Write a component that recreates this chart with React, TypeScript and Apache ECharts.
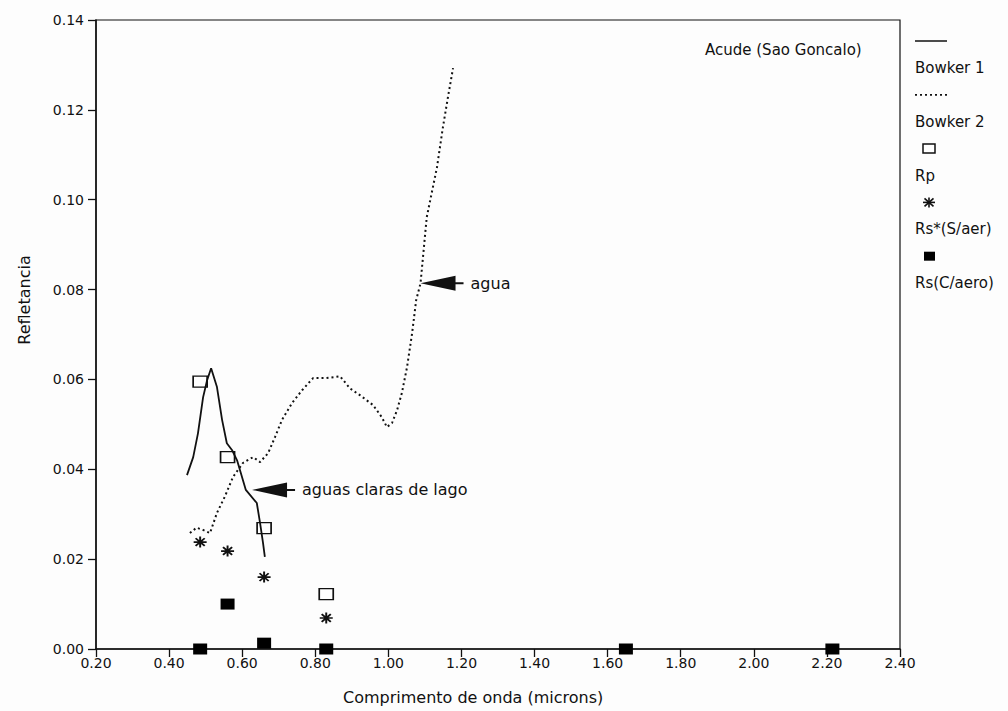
import React, { useEffect, useRef } from "react";
import * as echarts from "echarts";

// Wavelength axis ticks (microns) and reflectance ticks
const xTicks = { min: 0.2, max: 2.4, step: 0.2 };
const yTicks = { min: 0, max: 0.14, step: 0.02 };

// Bowker 1: clear lake water spectrum
const bowker1Wl = [0.449, 0.466, 0.479, 0.493, 0.504, 0.515, 0.531, 0.545, 0.558, 0.572, 0.586, 0.61, 0.64, 0.649, 0.657, 0.662];
const bowker1R = [0.0387, 0.0427, 0.048, 0.056, 0.0598, 0.0625, 0.0583, 0.051, 0.0458, 0.0443, 0.042, 0.0354, 0.0325, 0.028, 0.0236, 0.0205];

// Bowker 2: water spectrum
const bowker2Wl = [0.457, 0.475, 0.493, 0.512, 0.531, 0.553, 0.575, 0.602, 0.63, 0.649, 0.671, 0.69, 0.709, 0.736, 0.764, 0.794, 0.83, 0.868, 0.895, 0.922, 0.958, 0.982, 0.996, 1.01, 1.024, 1.037, 1.051, 1.065, 1.076, 1.088, 1.105, 1.133, 1.149, 1.163, 1.177];
const bowker2R = [0.0258, 0.027, 0.0265, 0.0258, 0.0303, 0.034, 0.0383, 0.0414, 0.0427, 0.0416, 0.0436, 0.0472, 0.051, 0.0547, 0.0576, 0.0603, 0.0603, 0.0607, 0.058, 0.0565, 0.0543, 0.0516, 0.0494, 0.0503, 0.0532, 0.057, 0.0627, 0.0703, 0.0776, 0.0814, 0.0961, 0.1072, 0.116, 0.1228, 0.1293];

// Band centres (TM) and derived reflectances
const visBands = [0.485, 0.56, 0.66, 0.83];
const rpValues = [0.0595, 0.0427, 0.0269, 0.0122];
const rsNoAerValues = [0.0238, 0.0218, 0.016, 0.0069];
const allBands = [0.485, 0.56, 0.66, 0.83, 1.65, 2.215];
const rsAeroValues = [0.0, 0.01, 0.0013, 0.0, 0.0, 0.0];

// Annotation arrows: [wavelength, reflectance, label]
const arrowNotes: [number, number, string][] = [
  [1.088, 0.0814, "agua"],
  [0.627, 0.0354, "aguas claras de lago"],
];

// Legend entries, each a key row followed by a label row
const legendLabels = ["Bowker 1", "Bowker 2", "Rp", "Rs*(S/aer)", "Rs(C/aero)"];

const FONT = "DejaVu Sans";
const INK = "#111";
const ARROW = "path://M0,7.5L35,0L35,6.5L43,6.5L43,8.5L35,8.5L35,15Z";
const ASTERISK = "path://M5,0L5,10M0,5L10,5M1.5,1.5L8.5,8.5M1.5,8.5L8.5,1.5";

const zip = (a: number[], b: number[]) => a.map((v, i) => [v, b[i]]);

export default function App() {
  const ref = useRef<HTMLDivElement>(null);

  useEffect(() => {
    if (!ref.current) return;
    const chart = echarts.init(ref.current, null, { renderer: "svg" });

    // legend layout: rows 27px apart starting below the frame top
    const legendX = 915;
    const rowTop = 41;
    const rowGap = 26.9;
    const keyY = (i: number) => rowTop + rowGap * 2 * i;
    const labelY = (i: number) => rowTop + rowGap * (2 * i + 1);

    const legendText = (i: number) => ({
      type: "text",
      x: legendX,
      y: labelY(i),
      style: { text: legendLabels[i], fill: INK, font: `15px "${FONT}"`, verticalAlign: "middle" },
    });
    const starCx = 929;
    const starCy = keyY(3);
    const starArm = (dx: number, dy: number) => ({
      type: "line",
      shape: { x1: starCx - dx, y1: starCy - dy, x2: starCx + dx, y2: starCy + dy },
      style: { stroke: INK, lineWidth: 1.6 },
    });

    chart.setOption({
      animation: false,
      backgroundColor: "#fdfdfd",
      grid: {
        left: 96,
        right: 108,
        top: 20,
        bottom: 62,
        show: true,
        borderColor: INK,
        borderWidth: 1.2,
        backgroundColor: "transparent",
      },
      xAxis: {
        type: "value",
        min: xTicks.min,
        max: xTicks.max,
        interval: xTicks.step,
        axisLine: { lineStyle: { color: INK, width: 1.5 } },
        axisTick: { show: true, length: 8, lineStyle: { color: INK, width: 1.3 } },
        axisLabel: {
          margin: 7,
          color: INK,
          fontFamily: FONT,
          fontSize: 14,
          formatter: (v: number) => v.toFixed(2),
        },
        splitLine: { show: false },
      },
      yAxis: {
        type: "value",
        min: yTicks.min,
        max: yTicks.max,
        interval: yTicks.step,
        axisLine: { show: true, lineStyle: { color: INK, width: 1.5 } },
        axisTick: { show: true, length: 8, lineStyle: { color: INK, width: 1.3 } },
        axisLabel: {
          margin: 12,
          color: INK,
          fontFamily: FONT,
          fontSize: 14,
          formatter: (v: number) => v.toFixed(2),
        },
        splitLine: { show: false },
      },
      series: [
        {
          name: "Bowker 1",
          type: "line",
          data: zip(bowker1Wl, bowker1R),
          showSymbol: false,
          lineStyle: { color: INK, width: 1.8 },
          markPoint: {
            symbol: ARROW,
            symbolSize: [43, 15],
            symbolOffset: [21.5, 0],
            itemStyle: { color: INK },
            label: {
              show: true,
              position: "right",
              distance: 7,
              color: INK,
              fontFamily: FONT,
              fontSize: 16,
              formatter: (p: any) => p.name,
            },
            data: arrowNotes.map(([x, y, name]) => ({ name, coord: [x, y] })),
          },
        },
        {
          name: "Bowker 2",
          type: "line",
          data: zip(bowker2Wl, bowker2R),
          showSymbol: false,
          lineStyle: { color: INK, width: 2, type: [2, 3] },
        },
        {
          name: "Rp",
          type: "scatter",
          clip: false,
          data: zip(visBands, rpValues),
          symbol: "rect",
          symbolSize: [14, 11],
          itemStyle: { color: "#fff", borderColor: INK, borderWidth: 1.5, opacity: 1 },
        },
        {
          name: "Rs*(S/aer)",
          type: "scatter",
          clip: false,
          data: zip(visBands, rsNoAerValues),
          symbol: ASTERISK,
          symbolSize: [13, 11],
          itemStyle: { color: INK, borderColor: INK, borderWidth: 1.8, opacity: 1 },
        },
        {
          name: "Rs(C/aero)",
          type: "scatter",
          clip: false,
          data: zip(allBands, rsAeroValues),
          symbol: "rect",
          symbolSize: [14, 11],
          itemStyle: { color: "#000", opacity: 1 },
        },
      ],
      graphic: [
        {
          type: "text",
          x: 24,
          y: 300,
          rotation: Math.PI / 2,
          style: {
            text: "Refletancia",
            fill: INK,
            font: `16px "${FONT}"`,
            align: "center",
            verticalAlign: "middle",
          },
        },
        {
          type: "text",
          x: 343,
          y: 697,
          style: {
            text: "Comprimento de onda (microns)",
            fill: INK,
            font: `16px "${FONT}"`,
            verticalAlign: "middle",
          },
        },
        {
          type: "text",
          x: 705,
          y: 50,
          style: {
            text: "Acude (Sao Goncalo)",
            fill: INK,
            font: `15px "${FONT}"`,
            verticalAlign: "middle",
          },
        },
        // legend keys and labels
        { type: "line", shape: { x1: 915, y1: keyY(0), x2: 947, y2: keyY(0) }, style: { stroke: INK, lineWidth: 1.5 } },
        legendText(0),
        { type: "line", shape: { x1: 915, y1: keyY(1), x2: 947, y2: keyY(1) }, style: { stroke: INK, lineWidth: 1.8, lineDash: [2, 3] } },
        legendText(1),
        { type: "rect", shape: { x: 923, y: keyY(2) - 4.5, width: 12, height: 9 }, style: { fill: "#fff", stroke: INK, lineWidth: 1.5 } },
        legendText(2),
        starArm(0, 5),
        starArm(6, 0),
        starArm(4.5, 4),
        starArm(4.5, -4),
        legendText(3),
        { type: "rect", shape: { x: 924, y: keyY(4) - 4.5, width: 11, height: 9 }, style: { fill: "#000" } },
        legendText(4),
      ],
    });

    return () => chart.dispose();
  }, []);

  return (
    <div
      ref={ref}
      style={{ position: "fixed", left: 0, top: 0, width: 1008, height: 711 }}
    />
  );
}
